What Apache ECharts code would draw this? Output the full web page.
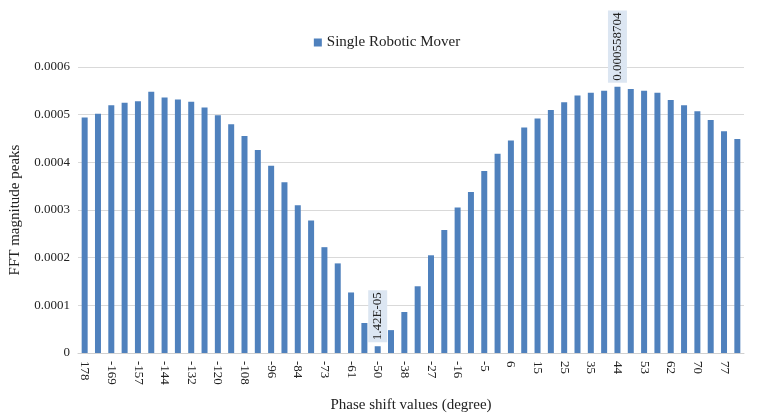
<!DOCTYPE html><html><head><meta charset="utf-8"><script src="https://cdn.jsdelivr.net/npm/echarts@6/dist/echarts.min.js"></script></head><body style="margin:0"><div id="c" style="width:774px;height:418px"></div><script>
const categories=['178','-175','-169','-163','-157','-151','-144','-138','-132','-126','-120','-114','-108','-102','-96','-90','-84','-79','-73','-67','-61','-55','-50','-44','-38','-33','-27','-22','-16','-10','-5','1','6','10','15','20','25','30','35','40','44','49','53','58','62','66','70','74','77','81'];
const values=[0.000494,0.000502,0.000520,0.000525,0.000528,0.000548,0.000536,0.000532,0.000527,0.000515,0.000499,0.000480,0.000455,0.000426,0.000393,0.000358,0.000310,0.000278,0.000222,0.000188,0.000127,0.000063,0.0000142,0.000048,0.000086,0.000140,0.000205,0.000258,0.000305,0.000338,0.000382,0.000418,0.000446,0.000473,0.000492,0.000510,0.000526,0.000540,0.000546,0.000550,0.000558704,0.000554,0.000550,0.000546,0.000531,0.000520,0.000507,0.000489,0.000465,0.000449];
const labelled={22:'1.42E-05',40:'0.000558704'};
const F='Liberation Serif';
const data=values.map((v,i)=>labelled[i]?{value:v,label:{show:true,position:'top',rotate:90,align:'left',verticalAlign:'middle',formatter:labelled[i],backgroundColor:'#dce6f2',padding:[3,2],color:'#222',fontFamily:F,fontSize:13,distance:4}}:v);
const ch=echarts.init(document.getElementById('c'));
ch.setOption({animation:false,
legend:{top:30,left:'center',itemWidth:8,itemHeight:8,icon:'rect',textStyle:{fontFamily:F,fontSize:15,color:'#222'}},
grid:{left:78,right:30,top:67,bottom:63},
xAxis:{type:'category',data:categories,name:'Phase shift values (degree)',nameLocation:'middle',nameGap:45,nameTextStyle:{fontFamily:F,fontSize:15,color:'#222'},
axisLine:{lineStyle:{color:'#d0d0d0'}},axisTick:{show:false},axisLabel:{interval:1,rotate:-90,fontFamily:F,fontSize:13,color:'#222'}},
yAxis:{type:'value',min:0,max:0.0006,interval:0.0001,name:'FFT magnitude peaks',nameLocation:'middle',nameGap:55,nameTextStyle:{fontFamily:F,fontSize:15,color:'#222'},
axisLabel:{fontFamily:F,fontSize:13,color:'#222',formatter:v=>v===0?'0':v.toFixed(4)},splitLine:{lineStyle:{color:'#d9d9d9'}}},
series:[{name:'Single Robotic Mover',type:'bar',data:data,barWidth:'45%',itemStyle:{color:'#4f81bd'}}]});
</script></body></html>
